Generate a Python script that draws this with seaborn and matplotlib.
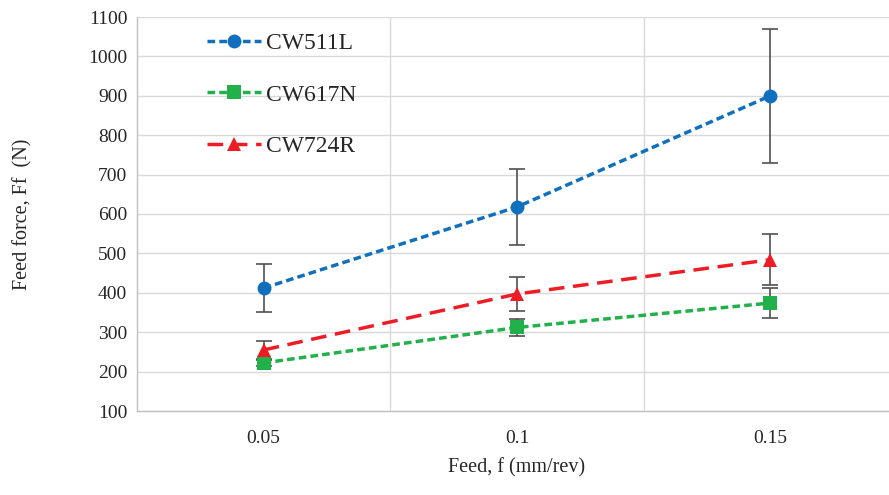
import matplotlib
matplotlib.use("Agg")
import matplotlib.pyplot as plt
import numpy as np
import pandas as pd
import seaborn as sns

FEEDS = ["0.05", "0.1", "0.15"]
SERIES = ["CW511L", "CW617N", "CW724R"]
FORCE = {
    "CW511L": [412, 618, 900],
    "CW617N": [222, 312, 374],
    "CW724R": [255, 397, 484],
}
ERR = {
    "CW511L": [60, 96, 170],
    "CW617N": [8, 22, 37],
    "CW724R": [22, 44, 64],
}
COLORS = {"CW511L": "#1070BD", "CW617N": "#22B04B", "CW724R": "#EE1C25"}
MARKERS = {"CW511L": "o", "CW617N": "s", "CW724R": "^"}
DASHES = {"CW511L": (2.2, 1.2), "CW617N": (2.2, 1.2), "CW724R": (4.5, 2.5)}

rows = []
for s in SERIES:
    for i, f in enumerate(FEEDS):
        rows.append({"pos": i, "feed": f, "series": s, "force": FORCE[s][i], "err": ERR[s][i]})
df = pd.DataFrame(rows)

sns.set_style("white")
plt.rcParams["font.family"] = ["Liberation Serif", "DejaVu Serif"]

fig = plt.figure(figsize=(8.89, 4.95), dpi=100)
ax = fig.add_axes([137 / 889, 1 - 411 / 495, 760 / 889, (411 - 17) / 495])

# error bars first, behind the markers
for s in SERIES:
    sub = df[df["series"] == s]
    ax.errorbar(sub["pos"], sub["force"], yerr=sub["err"], fmt="none",
                ecolor="#505050", elinewidth=1.2, capsize=6, capthick=1.2, zorder=2)

sns.lineplot(data=df, x="pos", y="force", hue="series", style="series",
             palette=COLORS, markers=MARKERS, dashes=DASHES, hue_order=SERIES,
             style_order=SERIES, linewidth=2.5, markersize=10, markeredgewidth=0,
             ax=ax, zorder=3)

ax.set_xlim(-0.5, 2.5)
ax.set_ylim(100, 1100)
ax.set_yticks(np.arange(100, 1101, 100))
ax.set_xticks(range(len(FEEDS)))
ax.set_xticklabels(FEEDS)
ax.set_xticks([0.5, 1.5], minor=True)
ax.tick_params(axis="x", which="major", length=0, pad=14)
ax.tick_params(axis="x", which="minor", length=5, color="#bfbfbf")
ax.tick_params(axis="y", length=0, pad=7)
ax.tick_params(labelsize=14)

ax.grid(False)
for y in np.arange(200, 1101, 100):
    ax.axhline(y, color="#d9d9d9", lw=1, zorder=0)
for x in [0.5, 1.5]:
    ax.axvline(x, color="#d9d9d9", lw=1, zorder=0)

for side in ["top", "right"]:
    ax.spines[side].set_visible(False)
for side in ["left", "bottom"]:
    ax.spines[side].set_color("#bfbfbf")
    ax.spines[side].set_linewidth(1)

ax.set_xlabel("Feed, f (mm/rev)", fontsize=14.5, labelpad=8)
ax.set_ylabel("Feed force, Ff  (N)", fontsize=14.5, labelpad=40)

leg = ax.legend(loc="upper left", bbox_to_anchor=(0.064, 1.015), frameon=False,
                fontsize=17, labelspacing=1.28, handlelength=2.3, handletextpad=0.2)

fig.savefig("out.png", dpi=100)
